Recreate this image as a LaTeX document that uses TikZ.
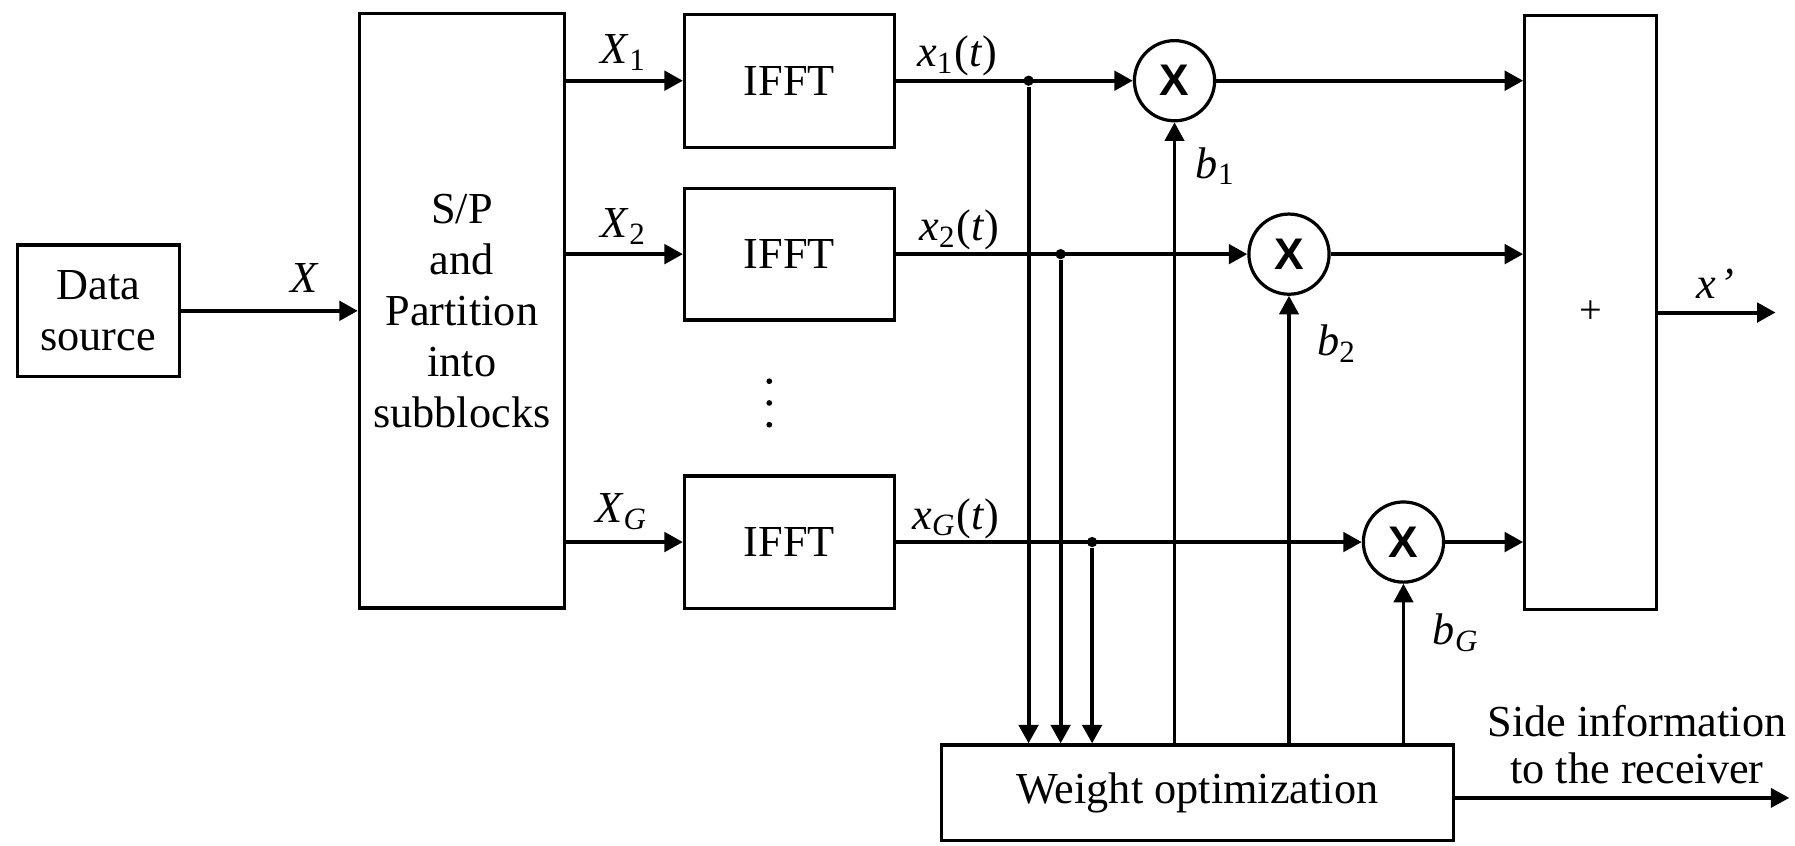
\documentclass[tikz,border=0pt]{standalone}
\usepackage{fontspec}
\setmainfont{Liberation Serif}
\newfontfamily\mulfont{Liberation Sans}
\usepackage{tikz}
\usetikzlibrary{arrows.meta, positioning, calc}
\tikzstyle{block} = [rectangle, 
draw=black, 
line width=0.8pt, 
inner sep=0pt, 
align=center, 
font=\fontsize{11}{12.7}\selectfont]
\tikzstyle{mult} = [circle, draw=black, line width=0.8pt, minimum size=0.7cm, inner sep=0pt, font=\mulfont\bfseries\fontsize{11}{11}\selectfont]
\tikzstyle{junc} = [circle, fill=black, inner sep=0pt, minimum size=0.09cm]
\tikzstyle{lbl} = [inner sep=0pt, font=\fontsize{11}{12}\selectfont]
\tikzstyle{arrow} = [line width=1pt, -{Triangle[length=4.6pt,width=4.8pt]}]
\tikzstyle{thinarrow} = [line width=0.8pt, -{Triangle[length=4.6pt,width=4.8pt]}]
\newcommand{\sig}[2]{\textit{#1}\textsubscript{#2}}

\begin{document}
\begin{tikzpicture}[x=0.01cm, y=-0.01cm]
    \useasboundingbox (0,0) rectangle (1568,739);

    \node (src) [block, minimum width=1.415cm, minimum height=1.15cm] at (85.8,271.5) {Data\\source};
    \node (sp) [block, minimum width=1.79cm, minimum height=5.19cm] at (403.5,271.5) {S/P\\and\\Partition\\into\\subblocks};

    \node (f1) [block, minimum width=1.83cm, minimum height=1.16cm] at (689.5,70.5) {IFFT};
    \node (f2) [block, minimum width=1.83cm, minimum height=1.15cm] at (689.5,222) {IFFT};
    \node (fg) [block, minimum width=1.83cm, minimum height=1.155cm] at (689.5,473.5) {IFFT};
    \foreach \y in {333,352,371}
        \fill (672,\y) circle (0.025cm);

    \node (m1) [mult] at (1026,70.5) {X};
    \node (m2) [mult] at (1126,222) {X};
    \node (mg) [mult] at (1226,473.5) {X};

    \node (sum) [block, minimum width=1.15cm, minimum height=5.19cm] at (1389.5,273) {\fontsize{10}{10}\selectfont +};
    \node (wo) [block, minimum width=4.47cm, minimum height=0.832cm] at (1046,692.4) {Weight optimization};

    \node (j1) [junc] at (898.5,70.5) {};
    \node (j2) [junc] at (926.5,222) {};
    \node (jg) [junc] at (954,473.5) {};

    \coordinate (out) at (1551,273);
    \coordinate (side) at (1563,697);

    % Input side
    \draw [arrow] (src.east) -- (src.east -| sp.west);
    \draw [arrow] (sp.east |- f1) -- (f1.west);
    \draw [arrow] (sp.east |- f2) -- (f2.west);
    \draw [arrow] (sp.east |- fg) -- (fg.west);

    % IFFT outputs to multipliers
    \draw [arrow] (f1.east) -- (m1.west);
    \draw [arrow] (f2.east) -- (m2.west);
    \draw [arrow] (fg.east) -- (mg.west);

    % Taps into weight optimization
    \draw [arrow] (j1) -- (j1 |- wo.north);
    \draw [arrow] (j2) -- (j2 |- wo.north);
    \draw [arrow] (jg) -- (jg |- wo.north);

    % Weights back to multipliers
    \draw [thinarrow] (wo.north -| m1) -- (m1.south);
    \draw [thinarrow] (wo.north -| m2) -- (m2.south);
    \draw [thinarrow] (wo.north -| mg) -- (mg.south);

    % Multipliers into the sum
    \draw [arrow] (m1.east) -- (m1.east -| sum.west);
    \draw [arrow] (m2.east) -- (m2.east -| sum.west);
    \draw [arrow] (mg.east) -- (mg.east -| sum.west);

    \draw [arrow] (sum.east |- out) -- (out);
    \draw [thinarrow] (wo.east |- side) -- (side);

    % Labels
    \node (lx) [lbl] at (266,243) {\textit{X}};
    \node (lx1) [lbl] at (545,46) {\sig{X}{1}};
    \node (lx2) [lbl] at (545,198) {\sig{X}{2}};
    \node (lxg) [lbl] at (543,447) {\sig{X}{\textit{G}}};
    \node (lt1) [lbl] at (836,49) {\sig{x}{1}(\textit{t})};
    \node (lt2) [lbl] at (838,201) {\sig{x}{2}(\textit{t})};
    \node (ltg) [lbl] at (835,453) {\sig{x}{\textit{G}}(\textit{t})};
    \node (lb1) [lbl] at (1062,145) {\sig{b}{1}};
    \node (lb2) [lbl] at (1168,300) {\sig{b}{2}};
    \node (lbg) [lbl] at (1272,553) {\sig{b}{\textit{G}}};
    \node (lout) [lbl] at (1498.5,247.5) {\textit{x}\kern1pt\textit{'}};
    \node (lside) [lbl, align=center, font=\fontsize{11}{11.7}\selectfont] at (1430,650.5) {Side information\\to the receiver};
\end{tikzpicture}
\end{document}
